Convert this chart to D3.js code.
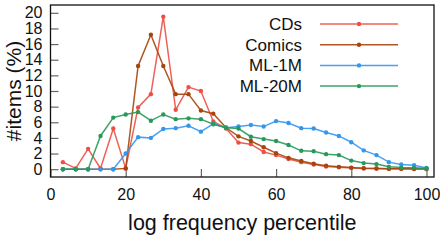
<!DOCTYPE html>
<html>
<head>
<meta charset="utf-8">
<script src="https://cdn.jsdelivr.net/npm/d3@7"></script>
<style>
  body { margin: 0; background: #fff; }
  svg text { font-family: "Liberation Sans", Arial, sans-serif; }
</style>
</head>
<body>
<svg id="grafico"></svg>
<script>
const largura = 440;
const altura = 240;
const margem = { top: 5, right: 6, bottom: 63, left: 50.5 };

// percentis (eixo x)
const percentis = [3.3, 6.7, 10, 13.3, 16.7, 20, 23.3, 26.7, 30, 33.3, 36.7, 40, 43.3, 46.7, 50,
                   53.3, 56.7, 60, 63.3, 66.7, 70, 73.3, 76.7, 80, 83.3, 86.7, 90, 93.3, 96.7, 100];

const cds    = [0.9, 0.1, 2.6, 0.1, 5.2, 0.1, 7.9, 9.6, 19.5, 7.6, 10.5, 10.0, 6.1, 5.2, 3.4,
                3.2, 2.2, 1.8, 1.3, 0.9, 0.6, 0.35, 0.25, 0.15, 0.1, 0.08, 0.05, 0.05, 0.03, 0.02];
const comics = [0, 0, 0, 0, 0, 0.1, 13.2, 17.2, 13.2, 9.6, 9.6, 7.5, 7.1, 5.3, 4.2,
                3.6, 2.8, 2.05, 1.45, 1.05, 0.7, 0.45, 0.3, 0.2, 0.12, 0.08, 0.05, 0.05, 0.04, 0.03];
const ml1m   = [0, 0, 0, 0, 0, 2.0, 4.1, 4.0, 5.15, 5.25, 5.55, 4.8, 5.8, 5.3, 5.45,
                5.65, 5.45, 6.15, 5.9, 5.25, 5.2, 4.7, 4.25, 3.45, 2.4, 1.8, 0.9, 0.6, 0.5, 0.15];
const ml20m  = [0, 0, 0, 4.25, 6.6, 7.0, 7.3, 6.2, 7.0, 6.4, 6.5, 6.4, 5.75, 5.3, 5.2,
                4.15, 3.85, 3.6, 3.1, 2.35, 2.3, 1.92, 1.8, 1.1, 0.78, 0.65, 0.3, 0.2, 0.17, 0.08];

const nomes = ["CDs", "Comics", "ML-1M", "ML-20M"];
const cores = ["#ec5045", "#a5450c", "#3497ef", "#27995a"];
const ticksX = [0, 20, 40, 60, 80, 100];
const ticksY = [0, 2, 4, 6, 8, 10, 12, 14, 16, 18, 20];

const series = [cds, comics, ml1m, ml20m].map((v, k) => ({
  nome: nomes[k], cor: cores[k],
  pontos: v.map((y, i) => ({ x: percentis[i], y: y }))
}));

const svg = d3.select("#grafico")
  .attr("width", largura)
  .attr("height", altura);

// Escalas
const x = d3.scaleLinear().domain([0, 102]).range([margem.left, largura - margem.right]);
const y = d3.scaleLinear().domain([-1, 21]).range([altura - margem.bottom, margem.top]);

// Eixos (ticks para dentro)
const eixoX = svg.append("g")
  .attr("transform", `translate(0, ${altura - margem.bottom})`)
  .call(d3.axisBottom(x).tickValues(ticksX).tickSizeInner(-8).tickSizeOuter(0).tickPadding(12));
const eixoY = svg.append("g")
  .attr("transform", `translate(${margem.left}, 0)`)
  .call(d3.axisLeft(y).tickValues(ticksY).tickSizeInner(-8).tickSizeOuter(0).tickPadding(8));

[eixoX, eixoY].forEach(g => {
  g.attr("font-family", null);
  g.select(".domain").remove();
  g.selectAll(".tick line").attr("stroke", "#666").attr("stroke-width", 1.2);
  g.selectAll(".tick text")
    .attr("font-size", 16)
    .attr("fill", "#111");
});

// Linhas
const linha = d3.line().x(d => x(d.x)).y(d => y(d.y));

series.forEach(s => {
  svg.append("path")
    .datum(s.pontos)
    .attr("fill", "none")
    .attr("stroke", s.cor)
    .attr("stroke-width", 1.5)
    .attr("stroke-opacity", 0.9)
    .attr("d", linha);

  svg.append("g").selectAll("circle")
    .data(s.pontos)
    .join("circle")
    .attr("cx", d => x(d.x))
    .attr("cy", d => y(d.y))
    .attr("r", 2.2)
    .attr("fill", s.cor);
});

// Moldura
svg.append("rect")
  .attr("x", margem.left)
  .attr("y", margem.top)
  .attr("width", largura - margem.right - margem.left)
  .attr("height", altura - margem.bottom - margem.top)
  .attr("fill", "none")
  .attr("stroke", "#111")
  .attr("stroke-width", 1.3);

// Legenda
const legenda = svg.append("g");
series.forEach((s, k) => {
  const ly = 24 + k * 20.7;
  legenda.append("text")
    .attr("x", 302)
    .attr("y", ly)
    .attr("dy", "0.35em")
    .attr("text-anchor", "end")
    .attr("font-size", 17)
    .attr("fill", "#111")
    .text(s.nome);
  legenda.append("line")
    .attr("x1", 320).attr("x2", 398)
    .attr("y1", ly).attr("y2", ly)
    .attr("stroke", s.cor)
    .attr("stroke-width", 1.5)
    .attr("stroke-opacity", 0.9);
  legenda.append("circle")
    .attr("cx", 359).attr("cy", ly).attr("r", 2.2)
    .attr("fill", s.cor);
});

// Títulos dos eixos
svg.append("text")
  .attr("x", (margem.left + largura - margem.right) / 2)
  .attr("y", 230)
  .attr("text-anchor", "middle")
  .attr("font-size", 21.5)
  .attr("fill", "#111")
  .text("log frequency percentile");

svg.append("text")
  .attr("transform", `translate(21, ${(margem.top + altura - margem.bottom) / 2}) rotate(-90)`)
  .attr("text-anchor", "middle")
  .attr("font-size", 21)
  .attr("fill", "#111")
  .text("#items (%)");
</script>
</body>
</html>
